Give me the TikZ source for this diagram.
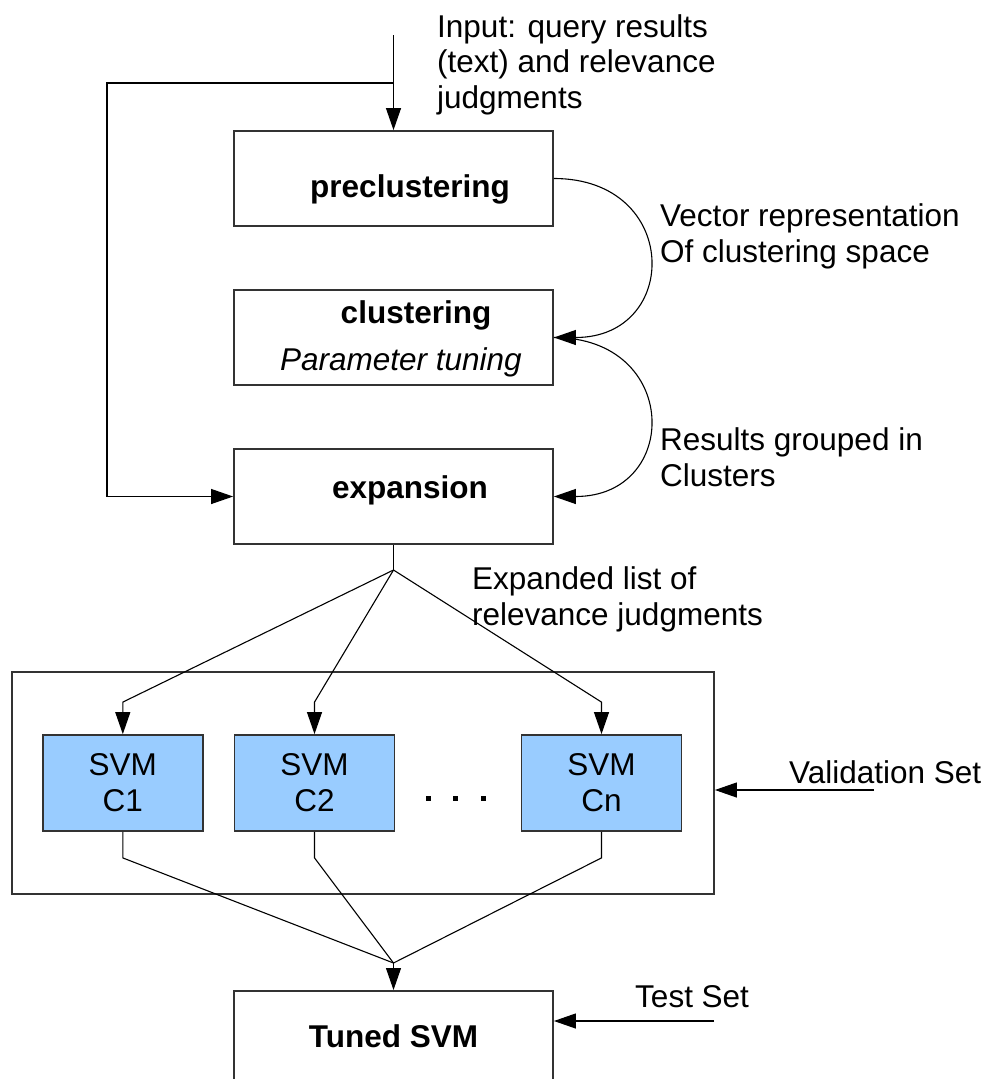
\documentclass[tikz,border=0pt]{standalone}
\usepackage{fontspec}
\setmainfont{Liberation Sans}
\usetikzlibrary{arrows.meta}
\definecolor{svmblue}{HTML}{99CCFF}
\definecolor{edgegray}{HTML}{333333}

\begin{document}
\begin{tikzpicture}[x=1pt,y=-1pt,
  every node/.style={inner sep=0pt},
  txt/.style={font=\fontsize{31.5}{35.5}\selectfont},
  box/.style={draw=edgegray, line width=1.8pt, minimum width=319pt, minimum height=95pt},
  svmbox/.style={draw=edgegray, line width=1.8pt, fill=svmblue, minimum width=160pt,
                 minimum height=96pt, align=center, font=\fontsize{31.5}{36}\selectfont},
  lbl/.style={txt, align=left, anchor=base west},
  inbox/.style={anchor=base, font=\fontsize{31.5}{35.5}\selectfont\bfseries},
  flow/.style={draw=black, line width=1.1pt, -{Triangle[length=22pt,width=15pt]}},
  wire/.style={draw=black, line width=1.1pt}]

\useasboundingbox (0,0) rectangle (984,1079);
\clip (0,0) rectangle (984,1079);

% processing stages
\node[box] (pre) at (393.5,178.5) {};
\node[box] (clu) at (393.5,337.5) {};
\node[box] (exp) at (393.5,496.5) {};
\node[box, minimum height=120pt, anchor=north] (tun) at (393.5,990) {};

\node[inbox] (preT) at (410,197) {preclustering};
\node[inbox] (cluT) at (416,323) {clustering};
\node[anchor=base, txt, font=\fontsize{31.5}{35.5}\selectfont\itshape] (cluP) at (401,370) {Parameter tuning};
\node[inbox] (expT) at (410,498) {expansion};
\node[inbox] (tunT) at (393.5,1047) {Tuned SVM};

% validation frame with the SVM variants
\node[draw=edgegray, line width=1.8pt, minimum width=702pt, minimum height=222pt] (val) at (363,783) {};
\node[svmbox] (c1) at (122.8,783) {SVM\\C1};
\node[svmbox] (c2) at (314.5,783) {SVM\\C2};
\node[svmbox] (cn) at (601.5,783) {SVM\\Cn};
\foreach \x in {428,455,483} \fill (\x-2.5,795.5) rectangle ++(5,5);

% labels (anchored at the baseline of their last line)
\node[lbl] (inL) at (437,108) {Input: query results\\(text) and relevance\\judgments};
\node[lbl] (vecL) at (660,262) {Vector representation\\Of clustering space};
\node[lbl] (grpL) at (660,486) {Results grouped in\\Clusters};
\node[lbl] (expL) at (472,625) {Expanded list of\\relevance judgments};
\node[lbl] (valL) at (789,783) {Validation Set};
\node[lbl] (tstL) at (635,1007) {Test Set};

% input and feedback to expansion
\coordinate (src) at (393.5,35);
\coordinate (tap) at (393.5,83);
\coordinate (fb) at (107,83);
\draw[flow] (src) -- (pre.north);
\draw[flow] (tap) -- (fb) |- (exp.west);

% curved hand-overs between stages
\draw[flow] (pre.east) .. controls +(127,0) and +(127,0) .. (clu.east);
\draw[flow] (clu.east) .. controls +(127,0) and +(127,0) .. (exp.east);

% fan-out to the SVMs
\coordinate (fork) at (393.5,570);
\draw[wire] (exp.south) -- (fork);
\draw[flow] (fork) -- ([yshift=32pt]c1.north) -- (c1.north);
\draw[flow] (fork) -- ([yshift=32pt]c2.north) -- (c2.north);
\draw[flow] (fork) -- ([yshift=32pt]cn.north) -- (cn.north);

% fan-in to the tuned SVM
\coordinate (join) at (393.5,963);
\draw[wire] (c1.south) -- ++(0,26) -- (join);
\draw[wire] (c2.south) -- ++(0,26) -- (join);
\draw[wire] (cn.south) -- ++(0,26) -- (join);
\draw[flow] (join) -- (tun.north);

% external data sets
\coordinate (vs) at (874,790);
\coordinate (ts) at (714,1021);
\draw[flow] (vs) -- (vs -| val.east);
\draw[flow] (ts) -- (ts -| tun.east);
\end{tikzpicture}
\end{document}
